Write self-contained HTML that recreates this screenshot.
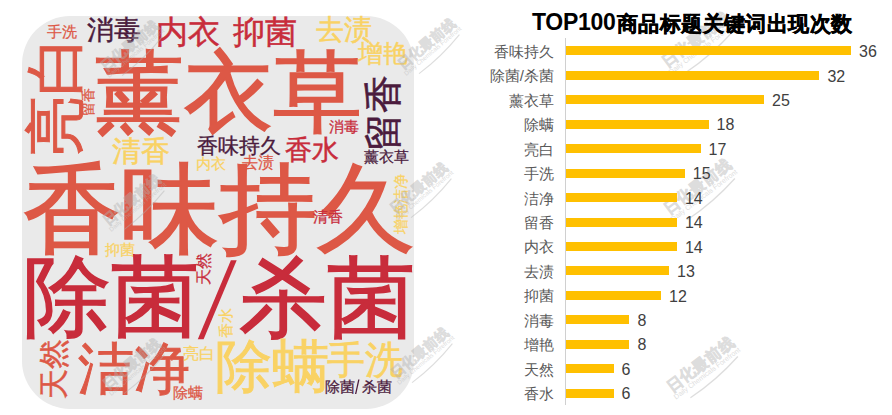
<!DOCTYPE html>
<html><head><meta charset="utf-8"><style>
html,body{margin:0;padding:0;background:#fff;width:892px;height:415px;overflow:hidden;position:relative;font-family:"Liberation Sans",sans-serif}
.box{position:absolute;left:22px;top:16px;width:392px;height:393px;background:#eaeaea;border-radius:48px;overflow:hidden}
.w{position:absolute;line-height:1;white-space:nowrap}
.r{transform-origin:0 0;transform:rotate(-90deg)}
.title{position:absolute;left:532px;top:11px;font-weight:bold;color:#000;white-space:nowrap;line-height:24px;height:24px}
.tl{font-size:23px;letter-spacing:-0.3px;position:relative;top:-1px}
.tc{font-size:21px;margin-left:1.5px;letter-spacing:0.4px;-webkit-text-stroke:0.5px #000}
.axis{position:absolute;left:565px;top:38px;width:1px;height:367px;background:#d0d0d0}
.lb{position:absolute;right:338px;font-size:15px;line-height:20px;color:#595959;white-space:nowrap;text-align:right}
.bar{position:absolute;left:566px;height:9px;background:#ffc000}
.val{position:absolute;font-size:16px;line-height:20px;color:#404040}
.wm{position:absolute;overflow:visible;opacity:.42}
.wt1{font-family:"Liberation Sans",sans-serif;font-size:14px;font-weight:bold;fill:#b0b0b0;stroke:#b0b0b0;stroke-width:0.5px}
.wt2{font-family:"Liberation Sans",sans-serif;font-size:6.3px;fill:#b0b0b0}
.wt3{fill:none;stroke:#b0b0b0;stroke-width:1.1px}
</style></head><body>
<svg class="wm" width="120" height="120" style="left:635.0px;top:-21.0px"><g transform="translate(60,60) rotate(-37) scale(1.12)"><text x="0" y="5.3" text-anchor="middle" class="wt1">日化最前线</text><text x="0" y="12.6" text-anchor="middle" class="wt2">Daily Chemicals Forefront</text><path d="M-25 19 Q 3 20.5 31 15" class="wt3"/></g></svg><svg class="wm" width="120" height="120" style="left:637.0px;top:126.0px"><g transform="translate(60,60) rotate(-37) scale(1.12)"><text x="0" y="5.3" text-anchor="middle" class="wt1">日化最前线</text><text x="0" y="12.6" text-anchor="middle" class="wt2">Daily Chemicals Forefront</text><path d="M-25 19 Q 3 20.5 31 15" class="wt3"/></g></svg><svg class="wm" width="120" height="120" style="left:639.5px;top:303.5px"><g transform="translate(60,60) rotate(-37) scale(1.12)"><text x="0" y="5.3" text-anchor="middle" class="wt1">日化最前线</text><text x="0" y="12.6" text-anchor="middle" class="wt2">Daily Chemicals Forefront</text><path d="M-25 19 Q 3 20.5 31 15" class="wt3"/></g></svg>
<div class="box"></div>
<span class="w" style="left:46.8px;top:23.6px;font-size:15.20px;color:#dd5846;-webkit-text-stroke:0.26px #dd5846">手洗</span>
<span class="w" style="left:87.1px;top:15.9px;font-size:27.42px;color:#4b1b3d;-webkit-text-stroke:0.47px #4b1b3d">消毒</span>
<span class="w" style="left:156.1px;top:17.1px;font-size:31.84px;color:#c82c3b;-webkit-text-stroke:0.54px #c82c3b">内衣</span>
<span class="w" style="left:233.2px;top:16.5px;font-size:31.74px;color:#c82c3b;-webkit-text-stroke:0.54px #c82c3b">抑菌</span>
<span class="w" style="left:315.8px;top:15.9px;font-size:27.92px;color:#f9d264;-webkit-text-stroke:0.47px #f9d264">去渍</span>
<span class="w" style="left:358.1px;top:42.4px;font-size:24.65px;color:#f9d264;-webkit-text-stroke:0.42px #f9d264">增艳</span>
<span class="w" style="left:95.1px;top:49.4px;font-size:88.81px;color:#dd5846;-webkit-text-stroke:1.51px #dd5846">薰衣草</span>
<span class="w" style="left:112.4px;top:136.2px;font-size:29.46px;color:#f9d264;-webkit-text-stroke:0.50px #f9d264">清香</span>
<span class="w" style="left:197.0px;top:136.2px;font-size:20.64px;color:#4b1b3d;-webkit-text-stroke:0.35px #4b1b3d">香味持久</span>
<span class="w" style="left:196.2px;top:155.6px;font-size:14.99px;color:#f9d264;-webkit-text-stroke:0.25px #f9d264">内衣</span>
<span class="w" style="left:241.7px;top:155.3px;font-size:15.68px;color:#dd5846;-webkit-text-stroke:0.27px #dd5846">去渍</span>
<span class="w" style="left:285.3px;top:136.4px;font-size:27.39px;color:#c82c3b;-webkit-text-stroke:0.47px #c82c3b">香水</span>
<span class="w" style="left:328.7px;top:119.6px;font-size:14.95px;color:#c82c3b;-webkit-text-stroke:0.25px #c82c3b">消毒</span>
<span class="w" style="left:364.2px;top:150.2px;font-size:14.80px;color:#4b1b3d;-webkit-text-stroke:0.25px #4b1b3d">薰衣草</span>
<span class="w" style="left:22.6px;top:159.5px;font-size:98.02px;color:#dd5846;-webkit-text-stroke:1.67px #dd5846">香味持久</span>
<span class="w" style="left:313.2px;top:209.4px;font-size:15.14px;color:#c82c3b;-webkit-text-stroke:0.26px #c82c3b">清香</span>
<span class="w" style="left:104.6px;top:241.8px;font-size:15.18px;color:#f9d264;-webkit-text-stroke:0.26px #f9d264">抑菌</span>
<span class="w" style="left:22.7px;top:253.4px;font-size:88.17px;color:#c82c3b;-webkit-text-stroke:1.50px #c82c3b">除菌</span>
<span class="w" style="left:238.6px;top:253.5px;font-size:87.96px;color:#c82c3b;-webkit-text-stroke:1.50px #c82c3b">杀菌</span>
<span class="w" style="left:77.6px;top:341.5px;font-size:55.69px;color:#dd5846;-webkit-text-stroke:0.95px #dd5846">洁净</span>
<span class="w" style="left:182.9px;top:344.6px;font-size:16.11px;color:#f9d264;-webkit-text-stroke:0.27px #f9d264">亮白</span>
<span class="w" style="left:173.0px;top:385.4px;font-size:15.25px;color:#dd5846;-webkit-text-stroke:0.26px #dd5846">除螨</span>
<span class="w" style="left:215.0px;top:338.8px;font-size:56.87px;color:#f9d264;-webkit-text-stroke:0.97px #f9d264">除螨</span>
<span class="w" style="left:327.0px;top:341.3px;font-size:38.42px;color:#f9d264;-webkit-text-stroke:0.65px #f9d264">手洗</span>
<span class="w" style="left:325.0px;top:379.2px;font-size:15.29px;color:#4b1b3d;-webkit-text-stroke:0.26px #4b1b3d">除菌</span>
<span class="w" style="left:361.8px;top:379.2px;font-size:15.25px;color:#4b1b3d;-webkit-text-stroke:0.26px #4b1b3d">杀菌</span>
<span class="w r" style="left:25.9px;top:155.6px;font-size:60.06px;color:#dd5846;-webkit-text-stroke:1.02px #dd5846">亮白</span>
<span class="w r" style="left:81.1px;top:115.9px;font-size:14.45px;color:#dd5846;-webkit-text-stroke:0.25px #dd5846">留香</span>
<span class="w r" style="left:363.7px;top:151.1px;font-size:38.40px;color:#4b1b3d;-webkit-text-stroke:0.65px #4b1b3d">留香</span>
<span class="w r" style="left:392.8px;top:234.2px;font-size:15.06px;color:#f9d264;-webkit-text-stroke:0.26px #f9d264">增艳洁净</span>
<span class="w r" style="left:195.7px;top:285.0px;font-size:15.86px;color:#c82c3b;-webkit-text-stroke:0.27px #c82c3b">天然</span>
<span class="w r" style="left:218.0px;top:337.9px;font-size:15.25px;color:#f9d264;-webkit-text-stroke:0.26px #f9d264">香水</span>
<span class="w r" style="left:38.9px;top:399.1px;font-size:29.74px;color:#dd5846;-webkit-text-stroke:0.51px #dd5846">天然</span>
<svg class="sl" width="892" height="415" style="position:absolute;left:0;top:0"><polygon points="197.8,339.2 203.6,339.2 236.7,260.3 230.9,260.3" fill="#c82c3b"/><polygon points="355,394 356.3,394 359.5,379.6 358.2,379.6" fill="#4b1b3d"/></svg>
<svg class="wm" width="120" height="120" style="left:69.3px;top:-14.7px"><g transform="translate(60,60) rotate(-40) scale(1.0)"><text x="0" y="5.3" text-anchor="middle" class="wt1">日化最前线</text><text x="0" y="12.6" text-anchor="middle" class="wt2">Daily Chemicals Forefront</text><path d="M-25 19 Q 3 20.5 31 15" class="wt3"/></g></svg><svg class="wm" width="120" height="120" style="left:70.9px;top:139.3px"><g transform="translate(60,60) rotate(-40) scale(1.0)"><text x="0" y="5.3" text-anchor="middle" class="wt1">日化最前线</text><text x="0" y="12.6" text-anchor="middle" class="wt2">Daily Chemicals Forefront</text><path d="M-25 19 Q 3 20.5 31 15" class="wt3"/></g></svg><svg class="wm" width="120" height="120" style="left:71.1px;top:302.6px"><g transform="translate(60,60) rotate(-40) scale(1.0)"><text x="0" y="5.3" text-anchor="middle" class="wt1">日化最前线</text><text x="0" y="12.6" text-anchor="middle" class="wt2">Daily Chemicals Forefront</text><path d="M-25 19 Q 3 20.5 31 15" class="wt3"/></g></svg><svg class="wm" width="120" height="120" style="left:366.2px;top:-17.5px"><g transform="translate(60,60) rotate(-40) scale(1.0)"><text x="0" y="5.3" text-anchor="middle" class="wt1">日化最前线</text><text x="0" y="12.6" text-anchor="middle" class="wt2">Daily Chemicals Forefront</text><path d="M-25 19 Q 3 20.5 31 15" class="wt3"/></g></svg><svg class="wm" width="120" height="120" style="left:357.5px;top:127.1px"><g transform="translate(60,60) rotate(-40) scale(1.0)"><text x="0" y="5.3" text-anchor="middle" class="wt1">日化最前线</text><text x="0" y="12.6" text-anchor="middle" class="wt2">Daily Chemicals Forefront</text><path d="M-25 19 Q 3 20.5 31 15" class="wt3"/></g></svg><svg class="wm" width="120" height="120" style="left:358.9px;top:292.1px"><g transform="translate(60,60) rotate(-40) scale(1.0)"><text x="0" y="5.3" text-anchor="middle" class="wt1">日化最前线</text><text x="0" y="12.6" text-anchor="middle" class="wt2">Daily Chemicals Forefront</text><path d="M-25 19 Q 3 20.5 31 15" class="wt3"/></g></svg>
<div class="title"><span class="tl">TOP100</span><span class="tc">商品标题关键词出现次数</span></div>
<div class="axis"></div>
<div class="lb" style="top:41.9px">香味持久</div>
<div class="bar" style="top:46.4px;width:285.1px"></div>
<div class="val" style="top:42.1px;left:859.1px">36</div>
<div class="lb" style="top:66.3px">除菌/杀菌</div>
<div class="bar" style="top:70.8px;width:253.4px"></div>
<div class="val" style="top:66.5px;left:827.4px">32</div>
<div class="lb" style="top:90.8px">薰衣草</div>
<div class="bar" style="top:95.3px;width:198.0px"></div>
<div class="val" style="top:91.0px;left:772.0px">25</div>
<div class="lb" style="top:115.2px">除螨</div>
<div class="bar" style="top:119.7px;width:142.6px"></div>
<div class="val" style="top:115.4px;left:716.6px">18</div>
<div class="lb" style="top:139.7px">亮白</div>
<div class="bar" style="top:144.2px;width:134.6px"></div>
<div class="val" style="top:139.9px;left:708.6px">17</div>
<div class="lb" style="top:164.1px">手洗</div>
<div class="bar" style="top:168.6px;width:118.8px"></div>
<div class="val" style="top:164.3px;left:692.8px">15</div>
<div class="lb" style="top:188.5px">洁净</div>
<div class="bar" style="top:193.0px;width:110.9px"></div>
<div class="val" style="top:188.7px;left:684.9px">14</div>
<div class="lb" style="top:213.0px">留香</div>
<div class="bar" style="top:217.5px;width:110.9px"></div>
<div class="val" style="top:213.2px;left:684.9px">14</div>
<div class="lb" style="top:237.4px">内衣</div>
<div class="bar" style="top:241.9px;width:110.9px"></div>
<div class="val" style="top:237.6px;left:684.9px">14</div>
<div class="lb" style="top:261.9px">去渍</div>
<div class="bar" style="top:266.4px;width:103.0px"></div>
<div class="val" style="top:262.1px;left:677.0px">13</div>
<div class="lb" style="top:286.3px">抑菌</div>
<div class="bar" style="top:290.8px;width:95.0px"></div>
<div class="val" style="top:286.5px;left:669.0px">12</div>
<div class="lb" style="top:310.7px">消毒</div>
<div class="bar" style="top:315.2px;width:63.4px"></div>
<div class="val" style="top:310.9px;left:637.4px">8</div>
<div class="lb" style="top:335.2px">增艳</div>
<div class="bar" style="top:339.7px;width:63.4px"></div>
<div class="val" style="top:335.4px;left:637.4px">8</div>
<div class="lb" style="top:359.6px">天然</div>
<div class="bar" style="top:364.1px;width:47.5px"></div>
<div class="val" style="top:359.8px;left:621.5px">6</div>
<div class="lb" style="top:384.1px">香水</div>
<div class="bar" style="top:388.6px;width:47.5px"></div>
<div class="val" style="top:384.3px;left:621.5px">6</div>
</body></html>
